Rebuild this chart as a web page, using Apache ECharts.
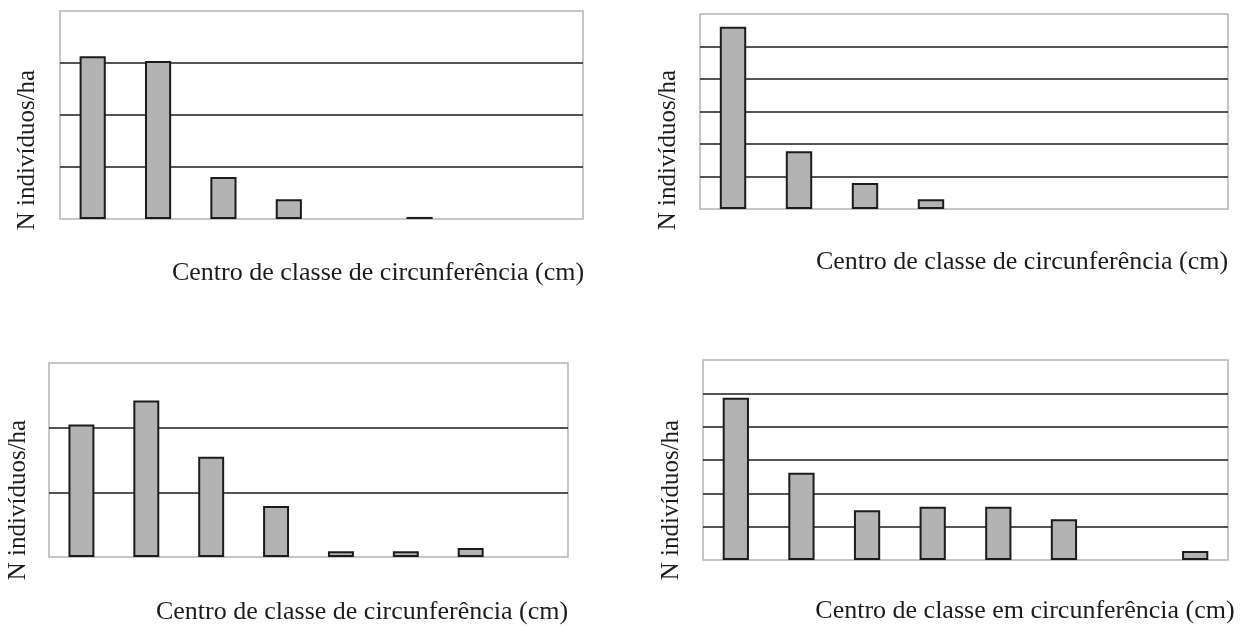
<!DOCTYPE html>
<html>
<head>
<meta charset="utf-8">
<style>
  html, body { margin: 0; padding: 0; background: #fff; }
  #chart { width: 1249px; height: 628px; }
</style>
<script src="https://cdn.jsdelivr.net/npm/echarts@6/dist/echarts.min.js"></script>
</head>
<body>
<div id="chart"></div>
<script>
// 8 circumference classes per panel (no tick labels shown in the original)
var classes = ['1', '2', '3', '4', '5', '6', '7', '8'];

// values, in units of one gridline step
var panelA = [3.13, 3.04, 0.81, 0.38, null, 0.04, null, null];
var panelB = [5.61, 1.78, 0.80, 0.30, null, null, null, null];
var panelC = [2.05, 2.42, 1.55, 0.79, 0.09, 0.09, 0.14, null];
var panelD = [4.87, 2.62, 1.49, 1.60, 1.60, 1.22, null, 0.27];

var yMax = [4, 6, 3, 6];

var yName = 'N indivíduos/ha';
var xNames = [
  'Centro de classe de circunferência (cm)',
  'Centro de classe de circunferência (cm)',
  'Centro de classe de circunferência (cm)',
  'Centro de classe em circunferência (cm)'
];

(function() {
  var ink = '#1c1c1c';
  var frame = '#b4b4b4';
  var fill = '#b3b3b3';
  var font = '"Liberation Serif", "Times New Roman", serif';

  var chart = echarts.init(document.getElementById('chart'), null, { renderer: 'canvas' });

  var grids = [
    { left: 60, top: 11, width: 523, height: 208 },
    { left: 700, top: 14, width: 528, height: 195 },
    { left: 49, top: 363, width: 519, height: 194 },
    { left: 703, top: 360, width: 525, height: 200 }
  ];
  var data = [panelA, panelB, panelC, panelD];
  var yLabelPos = [[27, 150], [668, 150], [18, 500], [671, 500]];
  var xLabelPos = [[378, 273], [1022, 262], [362, 612], [1025, 611]];

  var xAxes = [], yAxes = [], series = [], graphic = [];
  grids.forEach(function(g, i) {
    g.show = true;
    g.borderColor = frame;
    g.borderWidth = 1.5;
    g.backgroundColor = '#fff';
    xAxes.push({
      type: 'category',
      gridIndex: i,
      data: classes,
      boundaryGap: true,
      axisLine: { show: false },
      axisTick: { show: false },
      axisLabel: { show: false }
    });
    yAxes.push({
      type: 'value',
      gridIndex: i,
      min: 0,
      max: yMax[i],
      interval: 1,
      axisLine: { show: false },
      axisTick: { show: false },
      axisLabel: { show: false },
      splitLine: {
        showMinLine: false,
        showMaxLine: false,
        lineStyle: { color: ink, width: 1.6 }
      }
    });
    series.push({
      type: 'bar',
      xAxisIndex: i,
      yAxisIndex: i,
      data: data[i],
      barWidth: '40%',
      itemStyle: { color: fill, borderColor: ink, borderWidth: 2 },
      silent: true
    });
    graphic.push({
      type: 'text',
      x: yLabelPos[i][0],
      y: yLabelPos[i][1],
      rotation: Math.PI / 2,
      style: {
        text: yName,
        font: '25px ' + font,
        fill: ink,
        textAlign: 'center',
        textVerticalAlign: 'middle'
      }
    });
    graphic.push({
      type: 'text',
      x: xLabelPos[i][0],
      y: xLabelPos[i][1],
      style: {
        text: xNames[i],
        font: '26px ' + font,
        fill: ink,
        textAlign: 'center',
        textVerticalAlign: 'middle'
      }
    });
  });

  chart.setOption({
    animation: false,
    backgroundColor: '#fff',
    grid: grids,
    xAxis: xAxes,
    yAxis: yAxes,
    series: series,
    graphic: graphic
  });
})();
</script>
</body>
</html>
